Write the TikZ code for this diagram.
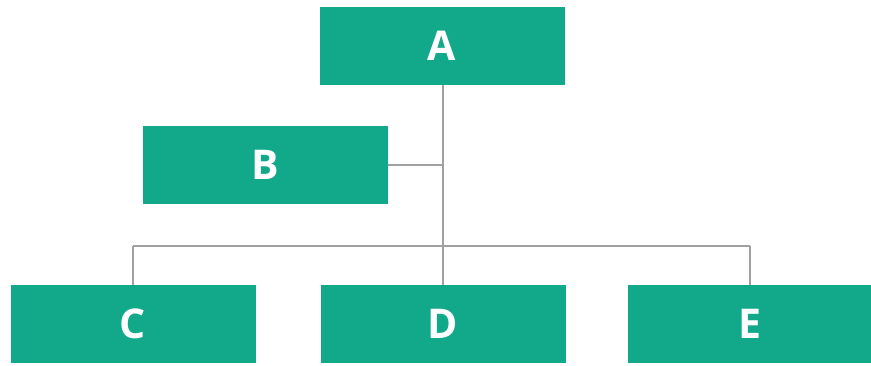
\documentclass[tikz,border=0pt]{standalone}
\usepackage{fontspec}
\setmainfont{Open Sans}
\definecolor{boxteal}{RGB}{18,169,138}
\definecolor{linegray}{RGB}{160,160,160}
\begin{document}
\begin{tikzpicture}[x=1pt,y=-1pt,
  orgbox/.style={fill=boxteal, draw=none, inner sep=0pt, minimum width=245pt, minimum height=78pt,
    text=white, font=\fontsize{41}{41}\selectfont\bfseries},
  link/.style={draw=linegray, line width=2pt}]
\useasboundingbox (0,0) rectangle (871,365);
\node[orgbox] (A) at (442,46) {A};
\node[orgbox] (B) at (265,165) {B};
\node[orgbox] (C) at (133,324) {C};
\node[orgbox] (D) at (443,324) {D};
\node[orgbox] (E) at (750,324) {E};
\coordinate (bj) at (443,165);
\coordinate (hj) at (443,246);
\coordinate (hl) at (133,246);
\coordinate (hr) at (750,246);
\draw[link] (A.south -| hj) -- (hj);
\draw[link] (B.east) -- (bj);
\draw[link] (hl) -- (hr);
\draw[link] (hl) -- (C.north);
\draw[link] (hj) -- (D.north);
\draw[link] (hr) -- (E.north);
\end{tikzpicture}
\end{document}
